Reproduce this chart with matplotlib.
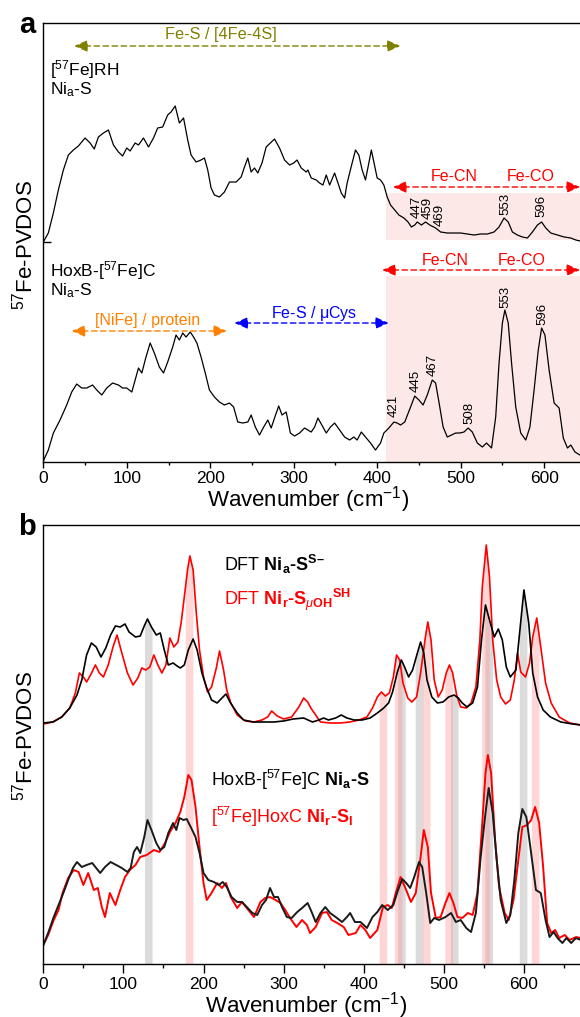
import numpy as np
import matplotlib
matplotlib.use("Agg")
import matplotlib.pyplot as plt

plt.rcParams['font.family'] = ['Liberation Sans', 'DejaVu Sans']
plt.rcParams['mathtext.fontset'] = 'custom'
plt.rcParams['mathtext.rm'] = 'Liberation Sans'
plt.rcParams['mathtext.it'] = 'Liberation Sans:italic'
plt.rcParams['mathtext.bf'] = 'Liberation Sans:bold'
plt.rcParams['mathtext.default'] = 'regular'

# ------------------------------
# Data (arbitrary intensity units)
# ------------------------------
# panel a: [57Fe]RH Ni_a-S (offset spectrum)
a_rh = [(0, 220), (6, 229), (12, 249), (18, 272), (24, 292), (30, 307), (36, 312), (42, 316),
        (50, 324), (56, 319), (61, 313), (66, 325), (72, 329), (78, 332), (84, 317), (90, 310),
        (95, 306), (100, 314), (104, 311), (110, 319), (114, 317), (120, 324), (126, 315),
        (132, 324), (137, 334), (143, 335), (149, 347), (153, 350), (158, 356), (163, 339),
        (168, 344), (173, 322), (177, 307), (183, 300), (189, 302), (193, 304), (197, 292),
        (201, 274), (205, 267), (211, 265), (217, 270), (223, 280), (231, 280), (237, 285),
        (241, 295), (245, 304), (249, 290), (253, 294), (257, 289), (262, 299), (267, 315),
        (272, 319), (277, 323), (283, 314), (289, 302), (295, 297), (300, 299), (304, 302),
        (309, 294), (315, 290), (317, 292), (321, 284), (327, 282), (331, 279), (335, 277),
        (339, 287), (343, 277), (349, 289), (353, 279), (357, 269), (361, 264), (364, 279),
        (370, 299), (374, 312), (378, 307), (382, 292), (386, 282), (390, 299), (393, 312),
        (396, 300), (400, 284), (404, 282), (408, 277), (412, 265), (416, 257), (421, 252),
        (426, 247), (432, 244), (437, 240), (441, 235), (445, 237), (448, 240), (453, 237),
        (458, 240), (463, 237), (470, 234), (476, 230), (484, 229), (492, 229), (500, 229),
        (508, 228), (516, 227), (524, 228), (532, 228), (540, 230), (546, 235), (552, 244),
        (557, 240), (562, 230), (568, 227), (574, 225), (580, 224), (586, 230), (592, 237),
        (597, 240), (602, 234), (608, 229), (616, 227), (624, 225), (632, 224), (638, 222),
        (643, 221)]
a_rh_wn, a_rh_int = map(np.array, zip(*a_rh))

# panel a: HoxB-[57Fe]C Ni_a-S
a_hox = [(0, 0), (1, 3), (6, 12), (12, 29), (20, 42), (28, 57), (34, 70), (40, 78), (46, 74),
         (52, 74), (59, 77), (64, 72), (70, 67), (76, 74), (83, 79), (90, 77), (95, 74),
         (100, 74), (106, 70), (110, 82), (114, 94), (118, 89), (123, 105), (128, 119),
         (133, 109), (139, 95), (144, 89), (149, 100), (155, 115), (159, 127), (163, 122),
         (167, 129), (171, 125), (176, 130), (180, 125), (184, 119), (189, 105), (194, 89),
         (199, 72), (205, 65), (211, 60), (217, 57), (223, 59), (228, 55), (233, 40),
         (239, 39), (245, 40), (249, 47), (254, 35), (259, 27), (264, 35), (269, 42),
         (273, 34), (277, 44), (282, 56), (286, 47), (291, 50), (296, 29), (301, 26),
         (307, 29), (313, 34), (317, 32), (321, 30), (325, 35), (329, 44), (335, 35),
         (339, 29), (344, 35), (349, 39), (355, 32), (361, 25), (367, 22), (372, 25),
         (376, 22), (381, 30), (386, 25), (392, 19), (398, 12), (404, 19), (408, 29),
         (414, 34), (420, 40), (424, 39), (428, 37), (433, 40), (440, 55), (445, 66),
         (450, 62), (455, 57), (460, 67), (466, 82), (470, 79), (474, 60), (479, 35),
         (484, 25), (489, 27), (494, 29), (499, 29), (504, 30), (509, 34), (514, 30),
         (520, 19), (526, 15), (531, 19), (537, 14), (542, 45), (546, 99), (550, 139),
         (553, 152), (557, 139), (561, 99), (566, 55), (572, 29), (578, 22), (583, 35),
         (588, 72), (593, 112), (597, 134), (601, 127), (606, 92), (612, 59), (618, 54),
         (623, 24), (628, 14), (632, 17), (637, 10), (643, 7)]
a_hox_wn, a_hox_int = map(np.array, zip(*a_hox))

# peak labels: text, label x position
a_rh_peaks = ["447", "459", "469", "553", "596"]
a_rh_peak_x = [447, 461, 475, 554, 597]
a_hox_peaks = ["421", "445", "467", "508", "553", "596"]
a_hox_peak_x = [420, 446, 467, 510, 554, 598]

# panel b: DFT Ni_a-S^S- (black) and DFT Ni_r-S_uOH^SH (red)
b_dft_a = [(0, 241), (12, 242), (23, 247), (33, 256), (42, 269), (48, 284), (54, 309),
           (60, 321), (66, 317), (72, 307), (78, 316), (84, 329), (90, 338), (96, 337),
           (102, 340), (107, 332), (115, 327), (121, 328), (126, 338), (130, 345), (135, 337),
           (141, 329), (146, 331), (151, 314), (156, 299), (162, 301), (167, 298), (171, 296),
           (176, 299), (181, 314), (187, 325), (192, 314), (198, 291), (204, 276), (210, 264),
           (217, 261), (223, 266), (228, 270), (233, 262), (242, 251), (250, 244), (262, 242),
           (275, 242), (288, 242), (300, 243), (312, 245), (325, 246), (336, 242), (344, 244),
           (350, 246), (356, 244), (365, 246), (372, 249), (379, 246), (388, 244), (398, 244),
           (408, 246), (417, 251), (425, 256), (431, 261), (436, 272), (442, 292), (447, 304),
           (451, 297), (456, 287), (461, 294), (467, 311), (471, 322), (475, 311), (479, 284),
           (485, 267), (492, 261), (499, 262), (506, 267), (513, 269), (518, 266), (523, 261),
           (529, 257), (536, 261), (542, 277), (547, 324), (552, 359), (557, 344), (563, 327),
           (568, 335), (573, 324), (578, 297), (583, 287), (590, 294), (595, 334), (600, 374),
           (606, 341), (611, 291), (617, 267), (624, 254), (633, 247), (646, 242), (661, 240),
           (671, 239)]
b_dft_a_wn, b_dft_a_int = map(np.array, zip(*b_dft_a))

b_dft_r = [(0, 240), (12, 242), (23, 247), (33, 256), (40, 271), (45, 291), (50, 287),
           (54, 282), (59, 289), (65, 299), (70, 291), (75, 287), (81, 299), (87, 317),
           (92, 329), (98, 311), (105, 291), (112, 279), (118, 286), (123, 296), (128, 294),
           (133, 297), (138, 309), (143, 299), (148, 291), (153, 299), (158, 326), (163, 317),
           (168, 322), (172, 341), (176, 367), (180, 394), (183, 408), (187, 394), (191, 351),
           (195, 314), (200, 287), (205, 272), (210, 277), (216, 296), (220, 313), (225, 294),
           (229, 274), (234, 261), (242, 249), (252, 243), (263, 242), (273, 244), (280, 247),
           (285, 253), (292, 248), (300, 245), (310, 247), (319, 257), (325, 266), (330, 262),
           (334, 256), (340, 249), (346, 242), (358, 241), (371, 241), (383, 242), (394, 244),
           (404, 247), (411, 256), (417, 267), (422, 272), (427, 268), (432, 271), (437, 287),
           (441, 309), (445, 304), (449, 281), (455, 266), (460, 262), (466, 267), (471, 291),
           (477, 327), (480, 342), (484, 324), (488, 284), (493, 267), (498, 274), (503, 291),
           (507, 299), (511, 291), (516, 269), (521, 257), (528, 256), (534, 261), (540, 277),
           (545, 324), (548, 377), (553, 419), (557, 387), (561, 324), (566, 284), (571, 267),
           (577, 260), (583, 264), (588, 284), (592, 311), (596, 292), (602, 287), (607, 301),
           (611, 327), (616, 346), (621, 317), (627, 281), (634, 261), (644, 247), (657, 241),
           (671, 239)]
b_dft_r_wn, b_dft_r_int = map(np.array, zip(*b_dft_r))

# panel b: experimental HoxB-[57Fe]C Ni_a-S (black) and [57Fe]HoxC Ni_r-S_I (red)
b_exp_a = [(0, 19), (6, 31), (13, 47), (19, 59), (25, 71), (31, 84), (37, 96), (42, 102),
           (48, 97), (54, 99), (61, 101), (66, 96), (71, 91), (77, 97), (84, 102), (91, 99),
           (98, 96), (105, 92), (109, 96), (113, 112), (117, 117), (121, 111), (126, 127),
           (130, 144), (135, 134), (141, 121), (146, 114), (151, 117), (156, 131), (162, 141),
           (166, 134), (170, 146), (175, 144), (179, 145), (184, 137), (190, 127), (195, 111),
           (200, 91), (206, 84), (213, 82), (219, 79), (224, 82), (229, 77), (235, 67),
           (242, 62), (248, 62), (254, 57), (261, 51), (267, 49), (273, 59), (278, 64),
           (283, 76), (288, 67), (293, 67), (298, 57), (304, 47), (310, 46), (317, 52),
           (323, 56), (330, 61), (335, 52), (340, 42), (346, 51), (352, 57), (358, 51),
           (365, 47), (373, 42), (379, 47), (383, 51), (389, 42), (396, 42), (404, 36),
           (411, 47), (417, 52), (423, 59), (430, 54), (437, 59), (442, 72), (448, 85),
           (453, 81), (458, 76), (463, 87), (469, 102), (473, 97), (478, 71), (483, 41),
           (488, 46), (494, 44), (502, 47), (509, 51), (515, 42), (521, 44), (528, 36),
           (534, 32), (540, 51), (546, 107), (552, 151), (556, 176), (561, 151), (566, 104),
           (571, 64), (578, 41), (583, 49), (588, 84), (593, 131), (598, 155), (603, 147),
           (608, 117), (615, 74), (621, 71), (627, 44), (632, 27), (637, 32), (642, 26),
           (648, 21), (653, 26), (659, 21), (665, 26), (671, 24)]
b_exp_a_wn, b_exp_a_int = map(np.array, zip(*b_exp_a))

b_exp_r = [(0, 19), (6, 29), (13, 44), (19, 54), (24, 71), (31, 86), (38, 94), (44, 92),
           (50, 79), (56, 91), (63, 74), (68, 76), (73, 57), (77, 47), (83, 71), (90, 59),
           (96, 74), (102, 87), (108, 94), (115, 99), (121, 107), (129, 109), (138, 114),
           (145, 112), (152, 121), (158, 132), (165, 141), (171, 152), (176, 167), (181, 189),
           (185, 184), (190, 157), (195, 117), (200, 81), (204, 64), (210, 71), (217, 81),
           (223, 76), (228, 81), (234, 67), (242, 56), (248, 62), (254, 56), (263, 47),
           (271, 62), (277, 66), (283, 67), (290, 64), (296, 61), (302, 54), (308, 46),
           (316, 37), (323, 44), (329, 39), (333, 31), (340, 37), (348, 51), (354, 52),
           (360, 44), (367, 41), (375, 37), (381, 29), (390, 31), (396, 39), (402, 34),
           (408, 26), (417, 34), (424, 57), (430, 59), (435, 56), (440, 71), (446, 87),
           (453, 74), (459, 62), (465, 71), (471, 107), (475, 134), (480, 117), (484, 71),
           (490, 46), (496, 47), (502, 61), (507, 71), (512, 61), (517, 47), (523, 46),
           (530, 51), (536, 49), (542, 71), (548, 141), (552, 191), (555, 209), (559, 191),
           (564, 124), (569, 77), (576, 51), (581, 44), (587, 64), (593, 104), (598, 137),
           (604, 139), (609, 144), (614, 157), (619, 141), (624, 97), (629, 41), (634, 31),
           (639, 34), (644, 26), (651, 29), (657, 24), (665, 27), (671, 26)]
b_exp_r_wn, b_exp_r_int = map(np.array, zip(*b_exp_r))

# band centres (cm-1) tying DFT to experiment
gray_bands = [131, 447, 469, 513, 556, 599]
pink_bands = [182, 424, 443, 478, 506, 552, 614]

# ------------------------------
# Styles
# ------------------------------
RED = "#ff0000"
OLIVE = "#808000"
ORANGE = "#ff8000"
BLUE = "#0000ff"
PINK_BG = "#fde8e8"
BAND_W = 9.5


def dashed_arrow(ax, x0, x1, y, color):
    ax.annotate("", xy=(x1, y), xytext=(x0, y),
                arrowprops=dict(arrowstyle="<|-|>,head_length=0.8,head_width=0.35",
                                ls=(0, (4, 2.5)), lw=1.0, color=color,
                                shrinkA=0, shrinkB=0),
                annotation_clip=False)


def band(ax, centre, wn, inten, color, alpha):
    lo, hi = centre - BAND_W / 2, centre + BAND_W / 2
    inside = wn[(wn > lo) & (wn < hi)]
    xs = np.concatenate([[lo], inside, [hi]])
    ys = np.interp(xs, wn, inten)
    ax.fill_between(xs, 0, ys, color=color, alpha=alpha, lw=0, zorder=0)


def style_axes(ax, xmax, major_len, minor_len):
    ax.set_xlim(0, xmax)
    ax.set_ylim(0, 439)
    ax.spines["right"].set_visible(False)
    for s in ["left", "bottom", "top"]:
        ax.spines[s].set_linewidth(1.0)
    ax.set_xticks(np.arange(0, 601, 100))
    ax.set_xticks(np.arange(50, xmax, 100), minor=True)
    ax.tick_params(axis="x", which="major", direction="out", length=major_len,
                   width=1.0, labelsize=12.5, pad=2.5)
    ax.tick_params(axis="x", which="minor", direction="out", length=minor_len, width=1.0)


fig = plt.figure(figsize=(5.8, 10.17), dpi=100)
ax_a = fig.add_axes([0.0747, 0.5457, 0.9253, 0.4317])
ax_b = fig.add_axes([0.0747, 0.0521, 0.9253, 0.4317])

# ------------------------------
# Panel a
# ------------------------------
ax = ax_a
style_axes(ax, 643, 4, 2.5)
ax.set_yticks([220])
ax.tick_params(axis="y", direction="in", length=6, width=1.0, labelleft=False)

ax.fill_between([410, 700], 222, 269, color=PINK_BG, lw=0, zorder=0)
ax.fill_between([410, 700], 0, 186, color=PINK_BG, lw=0, zorder=0)

ax.plot(a_rh_wn, a_rh_int, color="black", lw=0.9)
ax.plot(a_hox_wn, a_hox_int, color="black", lw=0.9)

for lab, x in zip(a_rh_peaks, a_rh_peak_x):
    ax.text(x, np.interp(x, a_rh_wn, a_rh_int) + 5, lab, rotation=90,
            ha="center", va="bottom", fontsize=9.5)
for lab, x in zip(a_hox_peaks, a_hox_peak_x):
    ax.text(x, np.interp(x, a_hox_wn, a_hox_int) + 5, lab, rotation=90,
            ha="center", va="bottom", fontsize=9.5)

dashed_arrow(ax, 37, 428, 416, OLIVE)
ax.text(213, 427, "Fe-S / [4Fe-4S]", color=OLIVE, fontsize=11.7, ha="center", va="center")
dashed_arrow(ax, 419, 643, 275, RED)
ax.text(492, 285, "Fe-CN", color=RED, fontsize=11.5, ha="center", va="center")
ax.text(584, 285, "Fe-CO", color=RED, fontsize=11.5, ha="center", va="center")
dashed_arrow(ax, 406, 643, 192, RED)
ax.text(482, 202, "Fe-CN", color=RED, fontsize=11.5, ha="center", va="center")
ax.text(573, 202, "Fe-CO", color=RED, fontsize=11.5, ha="center", va="center")
dashed_arrow(ax, 34, 220, 131, ORANGE)
ax.text(125, 142, "[NiFe] / protein", color=ORANGE, fontsize=11.5, ha="center", va="center")
dashed_arrow(ax, 229, 414, 139, BLUE)
ax.text(324, 149, r"Fe-S / $\mu$Cys", color=BLUE, fontsize=11.5, ha="center", va="center")

ax.text(8, 392, r"[$^{57}$Fe]RH", fontsize=12.5, ha="left", va="center")
ax.text(8, 372, r"Ni$_a$-S", fontsize=12.5, ha="left", va="center")
ax.text(8, 191, r"HoxB-[$^{57}$Fe]C", fontsize=12.5, ha="left", va="center")
ax.text(8, 171, r"Ni$_a$-S", fontsize=12.5, ha="left", va="center")

# ------------------------------
# Panel b
# ------------------------------
ax = ax_b
style_axes(ax, 670, 6.5, 3.2)
ax.set_yticks([])

for c in gray_bands:
    band(ax, c, b_dft_a_wn, b_dft_a_int, "#999999", 0.35)
for c in pink_bands:
    band(ax, c, b_dft_r_wn, b_dft_r_int, "#ff9999", 0.4)

ax.plot(b_dft_r_wn, b_dft_r_int, color=RED, lw=1.2)
ax.plot(b_dft_a_wn, b_dft_a_int, color="black", lw=1.2)
ax.plot(b_exp_r_wn, b_exp_r_int, color=RED, lw=1.4)
ax.plot(b_exp_a_wn, b_exp_a_int, color="#1a1a1a", lw=1.4)

ax.text(225, 400, "DFT $\\mathbf{Ni_a‐S^{S–}}$", fontsize=13, ha="left", va="center")
ax.text(225, 364, "DFT $\\mathbf{Ni_r‐S}_{\\mathit{μ}\\mathbf{OH}}{}^{\\mathbf{SH}}$",
        color=RED, fontsize=13, ha="left", va="center")
ax.text(209, 184, "HoxB-[$^{57}$Fe]C $\\mathbf{Ni_a‐S}$", fontsize=13, ha="left", va="center")
ax.text(209, 147, "[$^{57}$Fe]HoxC $\\mathbf{Ni_r‐S_I}$", color=RED, fontsize=13,
        ha="left", va="center")

# ------------------------------
# Figure-level labels
# ------------------------------
W, H = 580.0, 1017.0
fig.text(308 / W, 1 - 500 / H, "Wavenumber (cm$^{-1}$)", fontsize=16, ha="center", va="center")
fig.text(306 / W, 1 - 1006 / H, "Wavenumber (cm$^{-1}$)", fontsize=16, ha="center", va="center")
fig.text(25 / W, 1 - 245 / H, "$^{57}$Fe-PVDOS", fontsize=16, rotation=90, ha="center", va="center")
fig.text(25 / W, 1 - 736 / H, "$^{57}$Fe-PVDOS", fontsize=16, rotation=90, ha="center", va="center")
fig.text(27 / W, 1 - 33 / H, "a", fontsize=21, fontweight="bold", ha="center", va="baseline")
fig.text(27 / W, 1 - 535 / H, "b", fontsize=21, fontweight="bold", ha="center", va="baseline")

fig.savefig("out.png", dpi=100)
